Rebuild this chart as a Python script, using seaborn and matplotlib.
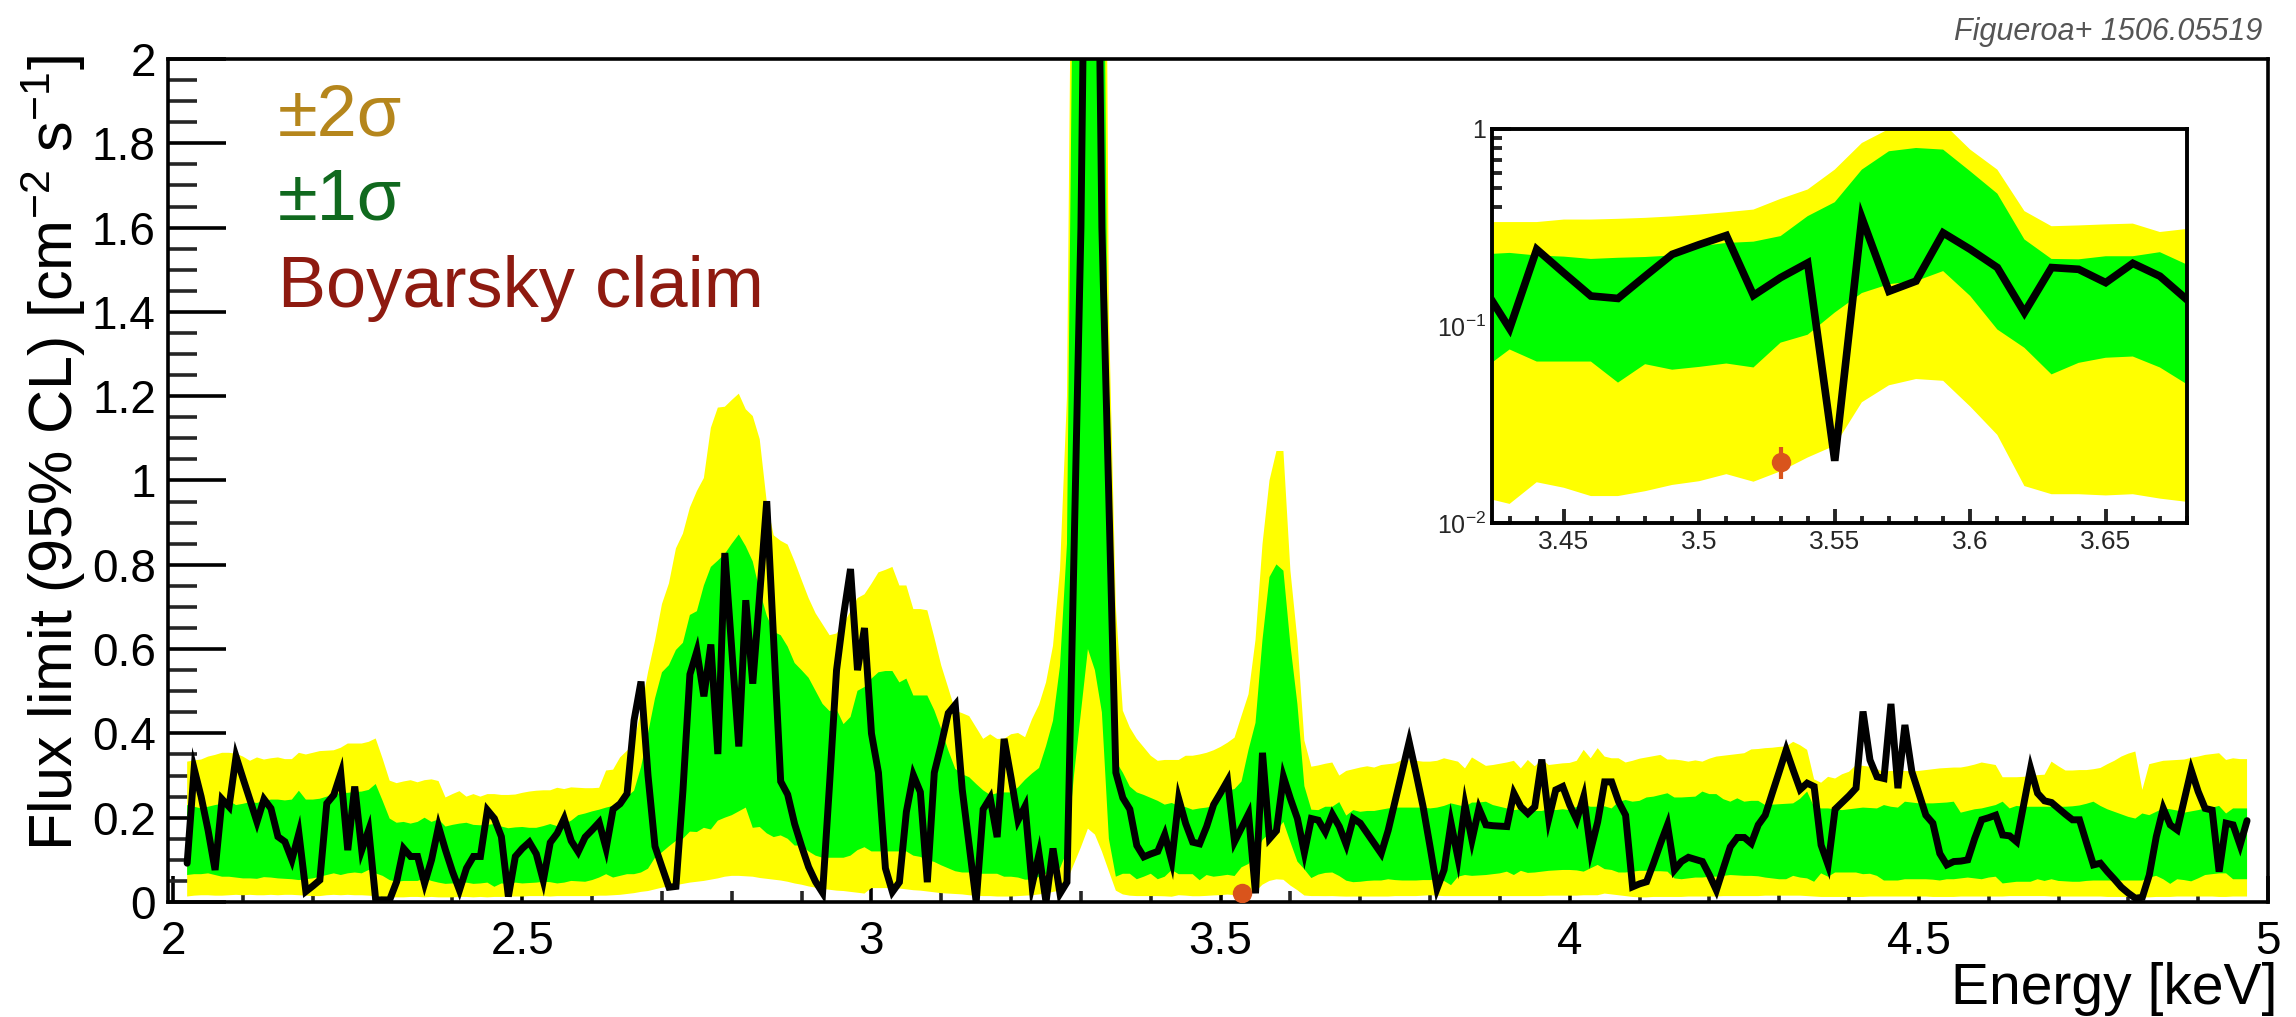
import numpy as np
import pandas as pd
import matplotlib
matplotlib.use("Agg")
import matplotlib.pyplot as plt
import seaborn as sns
from matplotlib.ticker import MultipleLocator, FixedLocator, FuncFormatter, NullFormatter

# ---------------------------------------------------------------------------
# Data: 95% CL flux limit and expected bands, sampled every 10 eV
# ---------------------------------------------------------------------------
E_FIRST = 2.02
E_STEP = 0.01

limit = [
    0.092, 0.316, 0.25, 0.17, 0.076, 0.244, 0.226, 0.345,
    0.293, 0.242, 0.19, 0.244, 0.222, 0.155, 0.143, 0.10, 0.163, 0.025,
    0.038, 0.052, 0.234, 0.254, 0.305, 0.123, 0.274, 0.123, 0.171, 0.005,
    0.005, 0.005, 0.048, 0.127, 0.108, 0.108, 0.044, 0.10, 0.179, 0.123,
    0.072, 0.028, 0.08, 0.108, 0.108, 0.218, 0.198, 0.155, 0.013, 0.108,
    0.127, 0.142, 0.114, 0.051, 0.141, 0.163, 0.198, 0.145, 0.119, 0.154,
    0.171, 0.189, 0.127, 0.220, 0.233, 0.257, 0.431, 0.523, 0.30, 0.132,
    0.083, 0.035, 0.037, 0.264, 0.540, 0.595, 0.488, 0.611, 0.351, 0.828,
    0.60, 0.369, 0.716, 0.518, 0.73, 0.951, 0.62, 0.286, 0.255, 0.185,
    0.132, 0.083, 0.048, 0.022, 0.28, 0.55, 0.68, 0.79, 0.55, 0.65,
    0.40, 0.307, 0.080, 0.024, 0.047, 0.214, 0.301, 0.261, 0.047, 0.307,
    0.374, 0.448, 0.468, 0.267, 0.134, 0.0, 0.220, 0.247, 0.154, 0.387,
    0.294, 0.194, 0.227, 0.040, 0.114, 0.0, 0.127, 0.020, 0.047, 0.82,
    1.6, 3.0, 3.0, 1.6, 0.95, 0.307, 0.247, 0.220, 0.134, 0.107,
    0.114, 0.120, 0.16, 0.097, 0.245, 0.186, 0.142, 0.138, 0.179, 0.231,
    0.259, 0.288, 0.143, 0.176, 0.209, 0.0207, 0.354, 0.150, 0.169, 0.297,
    0.245, 0.198, 0.117, 0.198, 0.194, 0.166, 0.208, 0.179, 0.136, 0.198,
    0.187, 0.163, 0.139, 0.115, 0.17, 0.24, 0.31, 0.380, 0.305, 0.226,
    0.131, 0.032, 0.076, 0.187, 0.104, 0.23, 0.147, 0.222, 0.183, 0.181,
    0.18, 0.179, 0.258, 0.226, 0.21, 0.226, 0.338, 0.198, 0.266, 0.274,
    0.23, 0.195, 0.25, 0.123, 0.19, 0.285, 0.285, 0.238, 0.206, 0.036,
    0.043, 0.048, 0.092, 0.139, 0.183, 0.076, 0.096, 0.106, 0.101, 0.096,
    0.064, 0.028, 0.08, 0.131, 0.153, 0.153, 0.139, 0.183, 0.206, 0.258,
    0.309, 0.361, 0.313, 0.267, 0.282, 0.274, 0.135, 0.088, 0.220, 0.236,
    0.252, 0.27, 0.452, 0.337, 0.297, 0.293, 0.470, 0.27, 0.42, 0.309,
    0.258, 0.206, 0.187, 0.115, 0.088, 0.096, 0.097, 0.10, 0.151, 0.195,
    0.2, 0.206, 0.159, 0.157, 0.143, 0.23, 0.317, 0.258, 0.24, 0.236,
    0.222, 0.208, 0.195, 0.195, 0.141, 0.088, 0.092, 0.072, 0.054, 0.035,
    0.021, 0.009, 0.011, 0.064, 0.155, 0.222, 0.183, 0.171, 0.242, 0.313,
    0.262, 0.222, 0.218, 0.072, 0.187, 0.183, 0.135, 0.193,
]

sigma2_hi = [
    0.333, 0.336, 0.338, 0.345, 0.349, 0.354, 0.354, 0.352,
    0.345, 0.335, 0.343, 0.338, 0.341, 0.343, 0.339, 0.339, 0.354, 0.350,
    0.354, 0.358, 0.359, 0.360, 0.366, 0.376, 0.376, 0.376, 0.380, 0.388,
    0.34, 0.288, 0.282, 0.286, 0.289, 0.284, 0.289, 0.291, 0.287, 0.248,
    0.256, 0.263, 0.250, 0.256, 0.250, 0.256, 0.256, 0.254, 0.254, 0.255,
    0.259, 0.262, 0.264, 0.265, 0.265, 0.271, 0.268, 0.272, 0.271, 0.270,
    0.270, 0.271, 0.312, 0.314, 0.343, 0.359, 0.378, 0.457, 0.545, 0.620,
    0.707, 0.756, 0.839, 0.874, 0.936, 0.975, 1.006, 1.125, 1.173, 1.175,
    1.191, 1.206, 1.169, 1.153, 1.098, 0.95, 0.870, 0.857, 0.848, 0.808,
    0.764, 0.721, 0.685, 0.659, 0.633, 0.637, 0.659, 0.690, 0.721, 0.73,
    0.755, 0.782, 0.788, 0.795, 0.751, 0.751, 0.695, 0.695, 0.692, 0.628,
    0.561, 0.508, 0.454, 0.448, 0.441, 0.414, 0.387, 0.398, 0.387, 0.387,
    0.398, 0.401, 0.391, 0.434, 0.468, 0.521, 0.608, 0.788, 1.2, 3.0,
    5.0, 5.0, 5.0, 4.0, 1.4, 0.70, 0.454, 0.414, 0.387, 0.367,
    0.347, 0.335, 0.337, 0.337, 0.337, 0.347, 0.347, 0.350, 0.354, 0.36,
    0.368, 0.378, 0.390, 0.442, 0.493, 0.622, 0.849, 1.0, 1.07, 1.07,
    0.786, 0.622, 0.383, 0.321, 0.324, 0.328, 0.331, 0.30, 0.311, 0.315,
    0.319, 0.322, 0.319, 0.325, 0.327, 0.329, 0.337, 0.336, 0.335, 0.333,
    0.333, 0.335, 0.341, 0.337, 0.333, 0.317, 0.343, 0.333, 0.323, 0.325,
    0.328, 0.331, 0.335, 0.317, 0.337, 0.322, 0.338, 0.325, 0.327, 0.329,
    0.33, 0.335, 0.361, 0.341, 0.365, 0.345, 0.341, 0.341, 0.331, 0.335,
    0.340, 0.343, 0.346, 0.349, 0.338, 0.338, 0.336, 0.333, 0.336, 0.333,
    0.340, 0.345, 0.347, 0.349, 0.351, 0.353, 0.362, 0.363, 0.365, 0.366,
    0.368, 0.369, 0.380, 0.372, 0.361, 0.291, 0.283, 0.297, 0.293, 0.303,
    0.309, 0.325, 0.323, 0.321, 0.315, 0.309, 0.311, 0.311, 0.311, 0.310,
    0.311, 0.313, 0.315, 0.317, 0.318, 0.319, 0.319, 0.322, 0.326, 0.331,
    0.328, 0.325, 0.296, 0.296, 0.296, 0.297, 0.299, 0.301, 0.302, 0.333,
    0.322, 0.312, 0.312, 0.313, 0.313, 0.315, 0.318, 0.327, 0.335, 0.345,
    0.352, 0.357, 0.266, 0.327, 0.331, 0.335, 0.336, 0.337, 0.338, 0.342,
    0.345, 0.349, 0.351, 0.353, 0.337, 0.341, 0.339, 0.339,
]

sigma1_hi = [
    0.230, 0.226, 0.222, 0.226, 0.230, 0.233, 0.240, 0.230,
    0.233, 0.237, 0.235, 0.240, 0.243, 0.243, 0.241, 0.243, 0.264, 0.243,
    0.243, 0.245, 0.250, 0.255, 0.259, 0.259, 0.261, 0.262, 0.266, 0.280,
    0.24, 0.198, 0.188, 0.190, 0.186, 0.190, 0.200, 0.190, 0.196, 0.179,
    0.183, 0.186, 0.188, 0.183, 0.182, 0.183, 0.185, 0.179, 0.175, 0.177,
    0.178, 0.176, 0.176, 0.180, 0.185, 0.180, 0.185, 0.193, 0.206, 0.210,
    0.215, 0.219, 0.224, 0.228, 0.242, 0.250, 0.264, 0.32, 0.40, 0.483,
    0.545, 0.562, 0.598, 0.615, 0.681, 0.690, 0.751, 0.795, 0.81, 0.826,
    0.85, 0.872, 0.844, 0.808, 0.738, 0.68, 0.641, 0.633, 0.606, 0.567,
    0.55, 0.532, 0.501, 0.470, 0.453, 0.457, 0.422, 0.439, 0.501, 0.510,
    0.53, 0.545, 0.548, 0.548, 0.521, 0.53, 0.49, 0.49, 0.49, 0.455,
    0.41, 0.36, 0.316, 0.303, 0.296, 0.28, 0.265, 0.254, 0.258, 0.26,
    0.26, 0.272, 0.29, 0.305, 0.318, 0.37, 0.43, 0.56, 0.85, 2.5,
    4.0, 4.0, 4.0, 3.0, 0.9, 0.334, 0.307, 0.274, 0.26, 0.254,
    0.247, 0.24, 0.231, 0.235, 0.228, 0.225, 0.219, 0.222, 0.224, 0.228,
    0.254, 0.264, 0.268, 0.286, 0.361, 0.425, 0.622, 0.771, 0.801, 0.786,
    0.610, 0.470, 0.275, 0.219, 0.218, 0.226, 0.226, 0.237, 0.205, 0.218,
    0.214, 0.216, 0.216, 0.219, 0.222, 0.224, 0.224, 0.224, 0.224, 0.224,
    0.222, 0.224, 0.228, 0.234, 0.230, 0.226, 0.236, 0.236, 0.238, 0.230,
    0.226, 0.222, 0.218, 0.220, 0.216, 0.216, 0.216, 0.220, 0.218, 0.220,
    0.218, 0.226, 0.230, 0.226, 0.226, 0.227, 0.222, 0.238, 0.242, 0.238,
    0.240, 0.248, 0.250, 0.254, 0.258, 0.248, 0.248, 0.249, 0.250, 0.262,
    0.256, 0.256, 0.244, 0.238, 0.246, 0.238, 0.240, 0.240, 0.230, 0.231,
    0.232, 0.233, 0.234, 0.245, 0.262, 0.225, 0.222, 0.222, 0.220, 0.218,
    0.220, 0.222, 0.224, 0.223, 0.222, 0.230, 0.226, 0.224, 0.238, 0.236,
    0.234, 0.234, 0.234, 0.235, 0.236, 0.238, 0.212, 0.216, 0.220, 0.222,
    0.226, 0.230, 0.238, 0.222, 0.228, 0.226, 0.226, 0.226, 0.226, 0.226,
    0.226, 0.226, 0.227, 0.229, 0.233, 0.238, 0.228, 0.220, 0.214, 0.208,
    0.202, 0.198, 0.210, 0.206, 0.214, 0.222, 0.220, 0.217, 0.212, 0.215,
    0.218, 0.222, 0.224, 0.228, 0.210, 0.222, 0.222, 0.222,
]

sigma1_lo = [
    0.064, 0.066, 0.066, 0.068, 0.064, 0.060, 0.060, 0.058,
    0.056, 0.056, 0.055, 0.059, 0.058, 0.056, 0.055, 0.054, 0.052, 0.054,
    0.056, 0.060, 0.064, 0.068, 0.064, 0.068, 0.070, 0.068, 0.076, 0.068,
    0.062, 0.052, 0.048, 0.050, 0.050, 0.050, 0.056, 0.050, 0.046, 0.043,
    0.044, 0.044, 0.046, 0.043, 0.044, 0.046, 0.036, 0.044, 0.043, 0.046,
    0.044, 0.045, 0.046, 0.048, 0.047, 0.044, 0.046, 0.050, 0.049, 0.048,
    0.052, 0.058, 0.066, 0.058, 0.062, 0.066, 0.066, 0.070, 0.079, 0.105,
    0.118, 0.132, 0.145, 0.150, 0.167, 0.166, 0.176, 0.172, 0.193, 0.200,
    0.206, 0.215, 0.224, 0.176, 0.178, 0.163, 0.154, 0.158, 0.150, 0.134,
    0.134, 0.120, 0.110, 0.105, 0.105, 0.105, 0.105, 0.110, 0.123, 0.130,
    0.12, 0.12, 0.12, 0.12, 0.12, 0.12, 0.11, 0.107, 0.10, 0.095,
    0.087, 0.08, 0.073, 0.07, 0.07, 0.067, 0.067, 0.067, 0.067, 0.060,
    0.060, 0.058, 0.053, 0.053, 0.060, 0.067, 0.07, 0.08, 0.12, 0.30,
    0.45, 0.60, 0.55, 0.45, 0.15, 0.06, 0.067, 0.067, 0.054, 0.060,
    0.067, 0.054, 0.060, 0.076, 0.066, 0.066, 0.066, 0.0516, 0.064, 0.060,
    0.062, 0.0645, 0.0616, 0.0823, 0.0903, 0.117, 0.147, 0.163, 0.169, 0.19,
    0.142, 0.096, 0.0775, 0.0568, 0.065, 0.069, 0.070, 0.0616, 0.0506, 0.047,
    0.048, 0.050, 0.051, 0.051, 0.054, 0.052, 0.051, 0.051, 0.051, 0.052,
    0.052, 0.054, 0.050, 0.040, 0.060, 0.064, 0.062, 0.063, 0.064, 0.066,
    0.068, 0.072, 0.064, 0.074, 0.069, 0.070, 0.072, 0.074, 0.075, 0.076,
    0.076, 0.075, 0.072, 0.080, 0.088, 0.078, 0.076, 0.070, 0.070, 0.072,
    0.074, 0.074, 0.073, 0.073, 0.072, 0.056, 0.054, 0.056, 0.058, 0.058,
    0.060, 0.060, 0.062, 0.064, 0.063, 0.062, 0.062, 0.061, 0.058, 0.056,
    0.054, 0.054, 0.062, 0.058, 0.056, 0.048, 0.068, 0.060, 0.070, 0.070,
    0.070, 0.070, 0.066, 0.067, 0.062, 0.051, 0.051, 0.051, 0.054, 0.054,
    0.054, 0.054, 0.053, 0.051, 0.054, 0.054, 0.056, 0.058, 0.056, 0.054,
    0.058, 0.060, 0.044, 0.046, 0.048, 0.048, 0.048, 0.054, 0.050, 0.054,
    0.050, 0.049, 0.048, 0.048, 0.050, 0.051, 0.051, 0.051, 0.051, 0.051,
    0.051, 0.051, 0.051, 0.058, 0.062, 0.054, 0.043, 0.054, 0.052, 0.049,
    0.056, 0.064, 0.066, 0.068, 0.068, 0.054, 0.054, 0.054,
]

sigma2_lo = [
    0.013, 0.015, 0.016, 0.016, 0.015, 0.015, 0.016, 0.017,
    0.016, 0.017, 0.016, 0.016, 0.017, 0.016, 0.017, 0.017, 0.016, 0.015,
    0.014, 0.014, 0.016, 0.017, 0.016, 0.017, 0.016, 0.016, 0.015, 0.014,
    0.012, 0.011, 0.011, 0.011, 0.012, 0.012, 0.011, 0.012, 0.011, 0.011,
    0.011, 0.012, 0.012, 0.011, 0.012, 0.011, 0.012, 0.012, 0.013, 0.013,
    0.013, 0.014, 0.014, 0.014, 0.013, 0.014, 0.014, 0.014, 0.014, 0.014,
    0.014, 0.015, 0.015, 0.016, 0.017, 0.019, 0.021, 0.024, 0.026, 0.030,
    0.034, 0.037, 0.040, 0.043, 0.046, 0.048, 0.050, 0.053, 0.056, 0.060,
    0.062, 0.062, 0.061, 0.060, 0.057, 0.055, 0.053, 0.051, 0.048, 0.044,
    0.041, 0.037, 0.034, 0.031, 0.029, 0.027, 0.026, 0.024, 0.022, 0.020,
    0.033, 0.033, 0.033, 0.033, 0.032, 0.030, 0.028, 0.027, 0.025, 0.023,
    0.021, 0.020, 0.019, 0.018, 0.016, 0.015, 0.014, 0.014, 0.013, 0.013,
    0.013, 0.014, 0.015, 0.016, 0.018, 0.020, 0.024, 0.027, 0.05, 0.09,
    0.13, 0.174, 0.160, 0.12, 0.073, 0.027, 0.018, 0.015, 0.014, 0.014,
    0.014, 0.014, 0.0135, 0.0125, 0.0161, 0.0151, 0.0137, 0.0137, 0.0145, 0.0156,
    0.0163, 0.0177, 0.0162, 0.0183, 0.0215, 0.0247, 0.041, 0.050, 0.0538, 0.0527,
    0.039, 0.028, 0.0154, 0.014, 0.014, 0.0138, 0.014, 0.0133, 0.0128, 0.013,
    0.013, 0.013, 0.013, 0.013, 0.013, 0.014, 0.014, 0.014, 0.014, 0.015,
    0.016, 0.015, 0.014, 0.014, 0.014, 0.014, 0.014, 0.014, 0.014, 0.014,
    0.014, 0.014, 0.014, 0.014, 0.014, 0.014, 0.014, 0.015, 0.015, 0.015,
    0.015, 0.015, 0.016, 0.016, 0.016, 0.020, 0.018, 0.016, 0.014, 0.012,
    0.011, 0.011, 0.012, 0.012, 0.012, 0.012, 0.012, 0.013, 0.013, 0.013,
    0.013, 0.013, 0.014, 0.014, 0.014, 0.014, 0.014, 0.014, 0.015, 0.015,
    0.015, 0.015, 0.015, 0.015, 0.014, 0.013, 0.012, 0.012, 0.012, 0.012,
    0.012, 0.012, 0.012, 0.013, 0.013, 0.013, 0.013, 0.013, 0.013, 0.013,
    0.013, 0.013, 0.012, 0.012, 0.012, 0.012, 0.013, 0.013, 0.013, 0.013,
    0.013, 0.013, 0.013, 0.014, 0.014, 0.014, 0.014, 0.014, 0.014, 0.013,
    0.013, 0.013, 0.013, 0.013, 0.013, 0.013, 0.013, 0.012, 0.012, 0.012,
    0.012, 0.012, 0.011, 0.011, 0.012, 0.012, 0.012, 0.013, 0.013, 0.013,
    0.013, 0.013, 0.013, 0.012, 0.012, 0.013, 0.013, 0.013,
]

# Line claimed by Boyarsky et al.
claim_energy = [3.53]
claim_flux = [0.0205]
claim_err = [0.0038]

n = len(limit)
assert all(len(a) == n for a in (sigma1_lo, sigma1_hi, sigma2_lo, sigma2_hi))
energy = np.round(E_FIRST + E_STEP * np.arange(n), 2)
df = pd.DataFrame({"energy": energy, "limit": limit,
                   "s1_lo": sigma1_lo, "s1_hi": sigma1_hi,
                   "s2_lo": sigma2_lo, "s2_hi": sigma2_hi})

# ---------------------------------------------------------------------------
# Style
# ---------------------------------------------------------------------------
sns.set_theme(style="ticks")
plt.rcParams["font.family"] = ["Liberation Sans", "DejaVu Sans"]
plt.rcParams["mathtext.fontset"] = "custom"
plt.rcParams["mathtext.rm"] = "Liberation Sans"
plt.rcParams["mathtext.it"] = "Liberation Sans:italic"
plt.rcParams["mathtext.sf"] = "Liberation Sans"
plt.rcParams["axes.edgecolor"] = "black"

YELLOW = "#ffff00"
GREEN = "#00ff00"
CLAIM = "#d9541c"
TXT_2S = "#b5861c"
TXT_1S = "#10691e"
TXT_CLAIM = "#8e1a10"

W, H = 2296, 1017
fig = plt.figure(figsize=(W / 100, H / 100), dpi=100)
fig.patch.set_facecolor("white")


def px_box(left, top, right, bottom):
    return [left / W, 1 - bottom / H, (right - left) / W, (bottom - top) / H]


def draw_limits(axis, lw):
    axis.fill_between(df["energy"], df["s2_lo"], df["s2_hi"],
                      color=YELLOW, lw=0, zorder=1)
    axis.fill_between(df["energy"], df["s1_lo"], df["s1_hi"],
                      color=GREEN, lw=0, zorder=2)
    sns.lineplot(data=df, x="energy", y="limit", ax=axis, color="black",
                 linewidth=lw, estimator=None, sort=False, legend=False,
                 zorder=3, solid_joinstyle="miter")


def style_spines(axis, lw):
    for s in axis.spines.values():
        s.set_linewidth(lw)
        s.set_color("black")
        s.set_visible(True)


# ---------------------------------------------------------------------------
# Main panel
# ---------------------------------------------------------------------------
ax = fig.add_axes(px_box(168.3, 59, 2268, 902))
ax.set_facecolor("white")
draw_limits(ax, 5.0)
ax.errorbar(claim_energy, claim_flux, yerr=claim_err, fmt="o", color=CLAIM,
            ms=14, mew=0, elinewidth=3, capsize=0, zorder=4)

ax.set_xlim(1.993, 5.0)
ax.set_ylim(0, 2)
ax.xaxis.set_major_locator(MultipleLocator(0.5))
ax.xaxis.set_minor_locator(MultipleLocator(0.1))
ax.yaxis.set_major_locator(MultipleLocator(0.2))
ax.yaxis.set_minor_locator(MultipleLocator(0.05))
num_fmt = FuncFormatter(lambda v, p: f"{v:g}")
ax.xaxis.set_major_formatter(num_fmt)
ax.yaxis.set_major_formatter(num_fmt)
ax.tick_params(axis="y", which="major", direction="in", length=42, width=2.6,
               labelsize=33, pad=9, right=False, colors="black")
ax.tick_params(axis="y", which="minor", direction="in", length=21, width=2.6,
               right=False)
ax.tick_params(axis="x", which="major", direction="in", length=19, width=2.6,
               labelsize=33, pad=13, top=False, colors="black")
ax.tick_params(axis="x", which="minor", direction="in", length=8, width=2.6,
               top=False)
style_spines(ax, 2.6)

ax.set_ylabel(r"Flux limit (95% CL) [cm$^{-2}$ s$^{-1}$]", fontsize=44,
              loc="top", color="black")
ax.yaxis.label.set_va("baseline")
ax.yaxis.set_label_coords(-0.0455, 1.005)
ax.set_xlabel("Energy [keV]", fontsize=41, loc="right", color="black")
ax.xaxis.label.set_va("baseline")
ax.xaxis.set_label_coords(1.0043, -0.121)

fig.text(278 / W, 1 - 135 / H, "±2σ", color=TXT_2S, fontsize=52,
         ha="left", va="baseline")
fig.text(278 / W, 1 - 220 / H, "±1σ", color=TXT_1S, fontsize=52,
         ha="left", va="baseline")
fig.text(278 / W, 1 - 307 / H, "Boyarsky claim", color=TXT_CLAIM, fontsize=52,
         ha="left", va="baseline")
fig.text(2262 / W, 1 - 40 / H, "Figueroa+ 1506.05519", color="#555555",
         fontsize=22, style="italic", ha="right", va="baseline")

# ---------------------------------------------------------------------------
# Inset: zoom on the 3.5 keV region, log scale
# ---------------------------------------------------------------------------
axin = fig.add_axes(px_box(1492, 129, 2187, 523))
axin.set_facecolor("white")
draw_limits(axin, 5.5)
axin.errorbar(claim_energy, claim_flux, yerr=claim_err, fmt="o", color=CLAIM,
              ms=14, mew=0, elinewidth=3, capsize=3, capthick=4.5, zorder=4)
axin.set_yscale("log")
axin.set_xlim(3.4235, 3.68)
axin.set_ylim(0.01, 1)
axin.xaxis.set_major_locator(MultipleLocator(0.05))
axin.xaxis.set_minor_locator(MultipleLocator(0.01))
axin.xaxis.set_major_formatter(num_fmt)
axin.yaxis.set_major_locator(FixedLocator([0.01, 0.1, 1.0]))
axin.yaxis.set_minor_locator(FixedLocator(
    [m * d for d in (0.01, 0.1) for m in range(2, 10)]))
axin.yaxis.set_major_formatter(FuncFormatter(
    lambda v, p: "1" if abs(v - 1) < 1e-9 else rf"$10^{{{int(round(np.log10(v)))}}}$"))
axin.yaxis.set_minor_formatter(NullFormatter())
axin.tick_params(axis="y", which="major", direction="in", length=14, width=2.8,
                 labelsize=18, pad=4, right=False)
axin.tick_params(axis="y", which="minor", direction="in", length=7, width=2.8,
                 right=False)
axin.tick_params(axis="x", which="major", direction="in", length=10, width=2.8,
                 labelsize=19, pad=5, top=False)
axin.tick_params(axis="x", which="minor", direction="in", length=5, width=2.8,
                 top=False)
axin.set_xlabel("")
axin.set_ylabel("")
style_spines(axin, 2.8)

fig.savefig("out.png", dpi=100)
